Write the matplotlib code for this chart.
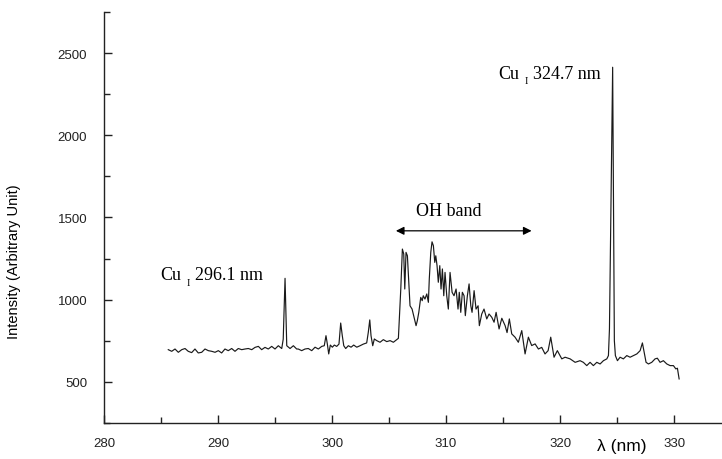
import matplotlib
matplotlib.use("Agg")
import matplotlib.pyplot as plt
from matplotlib.ticker import MultipleLocator

# spectrum: wavelength (nm) / intensity (a.u.)
wavelength = [
    285.64, 285.94, 286.23, 286.52, 286.82, 287.11, 287.39, 287.69, 287.98, 288.27,
    288.57, 288.86, 289.15, 289.45, 289.74, 290.03, 290.32, 290.61, 290.90, 291.20,
    291.49, 291.78, 292.08, 292.37, 292.66, 292.96, 293.25, 293.54, 293.83, 294.12,
    294.41, 294.71, 295.00, 295.29, 295.59, 295.72, 295.88, 296.03, 296.32, 296.61,
    296.90, 297.04, 297.34, 297.63, 297.92, 298.22, 298.51, 298.80, 299.10, 299.32,
    299.47, 299.59, 299.71, 299.85, 300.03, 300.20, 300.41, 300.61, 300.76, 300.90,
    301.03, 301.20, 301.43, 301.67, 301.90, 302.17, 302.46, 302.75, 303.04, 303.18,
    303.31, 303.42, 303.57, 303.71, 303.92, 304.21, 304.50, 304.80, 305.09, 305.38,
    305.68, 305.82, 306.03, 306.17, 306.29, 306.38, 306.49, 306.61, 306.73, 306.84,
    307.02, 307.19, 307.37, 307.48, 307.61, 307.78, 307.91, 308.00, 308.15, 308.31,
    308.45, 308.53, 308.66, 308.77, 308.89, 309.01, 309.10, 309.21, 309.32, 309.45,
    309.56, 309.68, 309.80, 309.91, 310.06, 310.20, 310.35, 310.53, 310.70, 310.88,
    311.05, 311.16, 311.29, 311.43, 311.58, 311.69, 311.87, 312.02, 312.17, 312.28,
    312.46, 312.63, 312.81, 312.92, 313.13, 313.33, 313.57, 313.77, 314.01, 314.21,
    314.39, 314.65, 314.89, 315.18, 315.35, 315.55, 315.76, 316.05, 316.34, 316.64,
    316.93, 317.22, 317.51, 317.81, 318.10, 318.39, 318.68, 318.95, 319.18, 319.47,
    319.76, 320.15, 320.44, 320.88, 321.32, 321.75, 322.04, 322.34, 322.63, 322.92,
    323.22, 323.51, 323.80, 324.10, 324.24, 324.33, 324.61, 324.76, 324.85, 325.03,
    325.26, 325.55, 325.85, 326.14, 326.43, 326.73, 327.02, 327.22, 327.37, 327.54,
    327.75, 328.04, 328.33, 328.53, 328.77, 329.06, 329.36, 329.65, 329.94, 330.15,
    330.29, 330.44,
]
intensity = [
    696, 686, 700, 680, 696, 703, 686, 678, 700, 676,
    680, 700, 690, 686, 680, 690, 676, 700, 690, 703,
    686, 703, 696, 700, 703, 696, 710, 716, 696, 710,
    700, 716, 700, 720, 703, 760, 1130, 720, 703, 720,
    700, 700, 690, 700, 703, 690, 711, 700, 716, 720,
    781, 730, 670, 724, 711, 724, 716, 730, 858, 781,
    720, 703, 720, 711, 724, 711, 720, 730, 737, 801,
    877, 781, 720, 761, 751, 741, 757, 745, 751, 741,
    757, 765, 1065, 1308, 1278, 1065, 1288, 1267, 1106, 963,
    943, 893, 842, 872, 923, 1014, 994, 1024, 1004, 1035,
    984, 1126, 1288, 1352, 1328, 1227, 1267, 1207, 1106, 1207,
    1065, 1187, 1024, 1166, 1024, 943, 1166, 1045, 1024, 1065,
    943, 1045, 923, 1045, 1024, 903, 1024, 1096, 963, 923,
    1055, 943, 963, 842, 913, 943, 883, 913, 893, 863,
    923, 822, 887, 842, 800, 883, 792, 772, 741, 812,
    670, 772, 721, 731, 700, 710, 670, 690, 772, 650,
    690, 640, 650, 640, 619, 629, 619, 599, 619, 599,
    619, 609, 629, 640, 660, 822, 2414, 751, 660, 629,
    650, 640, 660, 650, 660, 670, 690, 737, 680, 619,
    609, 619, 640, 644, 619, 629, 609, 599, 599, 579,
    583, 518,
]

# line labels: (left edge wavelength, baseline intensity, text)
line_labels = [
    (284.9, 1126, "296.1 nm"),
    (314.6, 2351, "324.7 nm"),
]

fig = plt.figure(figsize=(7.22, 4.60), dpi=100)
ax = fig.add_axes([0.144, 0.0783, 0.856, 0.8934])

ax.plot(wavelength, intensity, color="#1a1a1a", lw=0.85)

ax.set_xlim(280, 334.2)
ax.set_ylim(250, 2750)
ax.xaxis.set_major_locator(MultipleLocator(10))
ax.xaxis.set_minor_locator(MultipleLocator(5))
ax.yaxis.set_major_locator(MultipleLocator(500))
ax.yaxis.set_minor_locator(MultipleLocator(250))
ax.tick_params(which="both", direction="in", width=1.0, colors="#222222")
ax.tick_params(which="major", length=6)
ax.tick_params(which="minor", length=4)
ax.tick_params(axis="x", which="major", pad=10)
ax.tick_params(axis="y", which="major", pad=12)
for lab in ax.get_xticklabels() + ax.get_yticklabels():
    lab.set_family("Liberation Sans")
    lab.set_fontsize(9.5)

for s in ["top", "right"]:
    ax.spines[s].set_visible(False)
for s in ["left", "bottom"]:
    ax.spines[s].set_linewidth(1.0)
    ax.spines[s].set_color("#222222")

ax.set_ylabel("Intensity (Arbitrary Unit)", family="Liberation Sans", fontsize=10.5)
ax.yaxis.set_label_coords(-0.134, 0.394)
fig.text(622 / 722, 1 - 447 / 460, "λ (nm)", family="Liberation Sans",
         fontsize=12.5, ha="center", va="center")

# Cu I labels, subscript drawn as a separate small text
for lx, ly, txt in line_labels:
    ax.annotate("Cu", xy=(lx, ly), family="Liberation Serif", fontsize=13,
                va="baseline")
    ax.annotate("I", xy=(lx, ly), xytext=(19, -4), textcoords="offset points",
                family="Liberation Serif", fontsize=7.5, va="baseline")
    ax.annotate(txt, xy=(lx, ly), xytext=(25, 0), textcoords="offset points",
                family="Liberation Serif", fontsize=13, va="baseline")

ax.text(310.2, 1545, "OH band", family="Liberation Serif", fontsize=13,
        ha="center", va="center")
ax.annotate("", xy=(305.6, 1419), xytext=(317.5, 1419),
            arrowprops=dict(arrowstyle="<|-|>", color="black", lw=0.9,
                            mutation_scale=12, shrinkA=0, shrinkB=0))

fig.savefig("out.png", dpi=100)
